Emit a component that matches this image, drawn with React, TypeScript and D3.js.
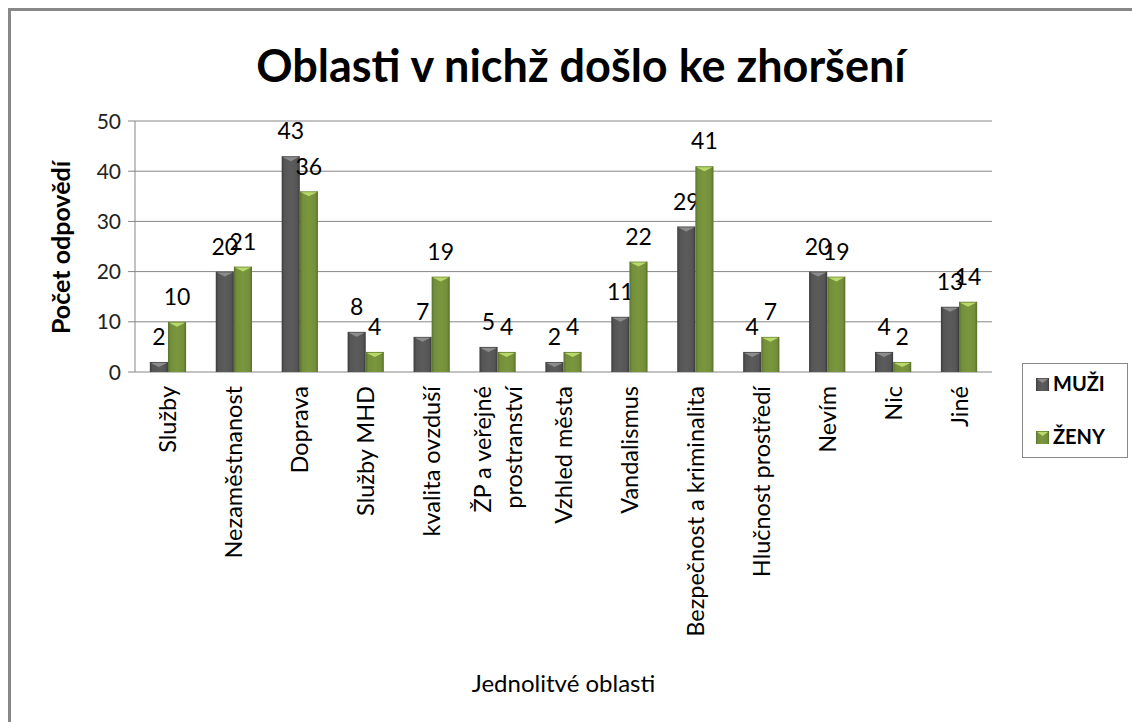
import React from "react";
import * as d3 from "d3";

const categories = [
  "Služby",
  "Nezaměstnanost",
  "Doprava",
  "Služby MHD",
  "kvalita ovzduší",
  "ŽP a veřejné prostranství",
  "Vzhled města",
  "Vandalismus",
  "Bezpečnost a kriminalita",
  "Hlučnost prostředí",
  "Nevím",
  "Nic",
  "Jiné",
];
const muzi = [2, 20, 43, 8, 7, 5, 2, 11, 29, 4, 20, 4, 13];
const zeny = [10, 21, 36, 4, 19, 4, 4, 22, 41, 7, 19, 2, 14];
const seriesNames = ["MUŽI", "ŽENY"];
const yTicks = [0, 10, 20, 30, 40, 50];

const labelLines: Record<string, string[]> = {
  "ŽP a veřejné prostranství": ["ŽP a veřejné", "prostranství"],
};

const W = 1132;
const H = 722;
const plot = { left: 135, right: 992, top: 121, bottom: 372 };
const FONT = "Lato, 'Open Sans', sans-serif";

export default function App() {
  const x = d3
    .scaleBand<string>()
    .domain(categories)
    .range([plot.left, plot.right])
    .paddingInner(0.45)
    .paddingOuter(0.225);
  const inner = d3
    .scaleBand<string>()
    .domain(seriesNames)
    .range([0, x.bandwidth()])
    .padding(0);
  const y = d3.scaleLinear().domain([0, 50]).range([plot.bottom, plot.top]);

  const series = [
    { name: "MUŽI", values: muzi, grad: "gM", top: "#8c8c8c" },
    { name: "ŽENY", values: zeny, grad: "gZ", top: "#b9d86c" },
  ];

  return (
    <svg
      width={W}
      height={H}
      style={{ position: "absolute", left: 0, top: 0, background: "#fff", overflow: "hidden" }}
      fontFamily={FONT}
    >
      <defs>
        <linearGradient id="gM" x1="0" x2="1" y1="0" y2="0">
          <stop offset="0" stopColor="#3c3c3c" />
          <stop offset="0.15" stopColor="#555" />
          <stop offset="0.5" stopColor="#5c5c5c" />
          <stop offset="0.85" stopColor="#555" />
          <stop offset="1" stopColor="#3a3a3a" />
        </linearGradient>
        <linearGradient id="gZ" x1="0" x2="1" y1="0" y2="0">
          <stop offset="0" stopColor="#5a7230" />
          <stop offset="0.15" stopColor="#738f3a" />
          <stop offset="0.5" stopColor="#7a973e" />
          <stop offset="0.85" stopColor="#738f3a" />
          <stop offset="1" stopColor="#58702e" />
        </linearGradient>
      </defs>

      {/* outer border (right and bottom edges lie outside the view) */}
      <path d="M9.5,722V9.5H1132" fill="none" stroke="#888" strokeWidth={3} />

      {/* title */}
      <text x={581} y={82} textAnchor="middle" fontSize={45} fontWeight="bold" fill="#000">
        Oblasti v nichž došlo ke zhoršení
      </text>

      {/* gridlines */}
      {yTicks.map((t) => (
        <g key={t}>
          <line x1={plot.left - 7} x2={plot.right} y1={y(t)} y2={y(t)} stroke="#868686" strokeWidth={1} />
          <text x={plot.left - 14} y={y(t)} dy="0.36em" textAnchor="end" fontSize={21} fill="#222">
            {t}
          </text>
        </g>
      ))}
      <line x1={plot.left} x2={plot.left} y1={plot.top} y2={plot.bottom} stroke="#868686" />

      {/* bars */}
      {series.map((s) =>
        categories.map((c, i) => {
          const v = s.values[i];
          const bx = (x(c) as number) + (inner(s.name) as number);
          const bw = inner.bandwidth();
          const by = y(v);
          const bh = y(0) - by;
          return (
            <g key={s.name + c}>
              <rect x={bx} y={by} width={bw} height={bh} fill={`url(#${s.grad})`} />
              <path
                d={`M${bx + 1},${by + 1}L${bx + bw - 1},${by + 1}L${bx + bw / 2},${by + 5}Z`}
                fill={s.top}
              />
              <text
                x={bx + bw / 2}
                y={by - 25}
                dy="0.36em"
                textAnchor="middle"
                fontSize={23}
                fill="#000"
              >
                {v}
              </text>
            </g>
          );
        })
      )}

      {/* x category labels */}
      {categories.map((c) => {
        const cx = (x(c) as number) + x.bandwidth() / 2;
        const lines = labelLines[c] || [c];
        const lh = 31;
        return (
          <g key={c}>
            {lines.map((ln, j) => {
              const lx = cx + (j - (lines.length - 1) / 2) * lh;
              return (
                <text
                  key={j}
                  transform={`translate(${lx},386) rotate(-90)`}
                  textAnchor="end"
                  dy="0.36em"
                  fontSize={23.5}
                  fill="#000"
                >
                  {ln}
                </text>
              );
            })}
          </g>
        );
      })}

      {/* axis titles */}
      <text
        transform={`translate(61,${(plot.top + plot.bottom) / 2 + 1}) rotate(-90)`}
        textAnchor="middle"
        dy="0.36em"
        fontSize={25}
        fontWeight="bold"
        fill="#000"
      >
        Počet odpovědí
      </text>
      <text x={(plot.left + plot.right) / 2} y={683} textAnchor="middle" dy="0.36em" fontSize={24} fill="#000">
        Jednolitvé oblasti
      </text>

      {/* legend */}
      <rect x={1022.5} y={363.5} width={105} height={94} fill="#fff" stroke="#888" strokeWidth={1} />
      {series.map((s, i) => {
        const ly = 384 + i * 53;
        return (
          <g key={s.name}>
            <rect x={1036} y={ly - 6} width={13} height={13} fill={`url(#${s.grad})`} />
            <path d={`M1037,${ly - 5}L1048,${ly - 5}L1042.5,${ly - 1}Z`} fill={s.top} />
            <text x={1053} y={ly} dy="0.36em" fontSize={20} fontWeight="bold" fill="#000">
              {s.name}
            </text>
          </g>
        );
      })}
    </svg>
  );
}
